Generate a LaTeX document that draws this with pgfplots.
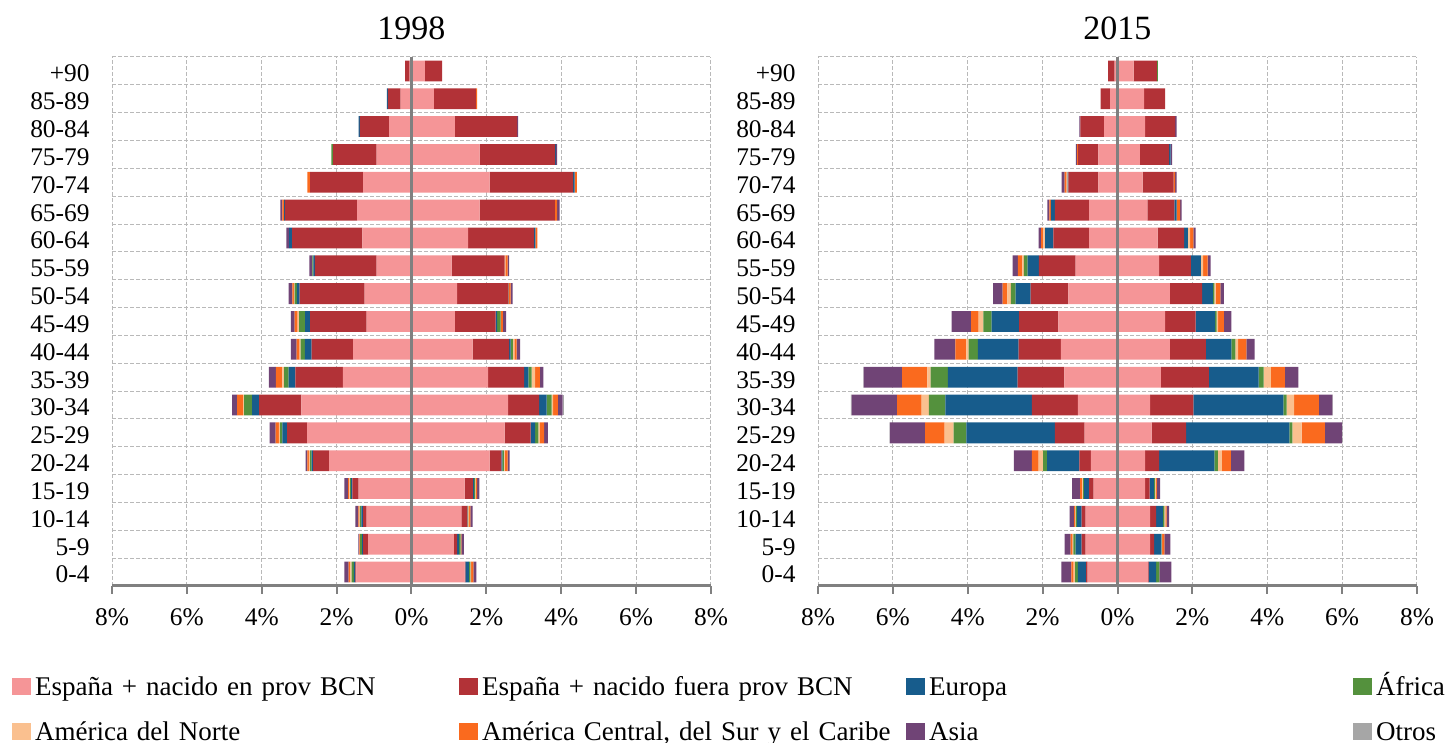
\documentclass[border=0pt]{standalone}
\usepackage{fontspec}
\setmainfont{Liberation Serif}
\usepackage{pgfplots}
\usepackage{pgfplotstable}
\pgfplotsset{compat=1.18}

\definecolor{cA}{HTML}{F59597}
\definecolor{cB}{HTML}{B23237}
\definecolor{cEU}{HTML}{175C8C}
\definecolor{cAF}{HTML}{54913D}
\definecolor{cAN}{HTML}{FAC08F}
\definecolor{cAC}{HTML}{FA6A1E}
\definecolor{cAS}{HTML}{704476}
\definecolor{cOT}{HTML}{A6A6A6}

% 1998, left side
\pgfplotstableread{
y a b eu af an ac as ot
0 -1.47 -0.03 -0.04 -0.06 -0.03 -0.05 -0.11 0
1 -1.16 -0.13 -0.03 -0.05 -0.01 -0.01 -0.03 0
2 -1.20 -0.09 -0.05 -0.04 -0.02 -0.02 -0.08 0
3 -1.41 -0.17 -0.03 -0.03 -0.02 -0.03 -0.10 0
4 -2.20 -0.43 -0.04 -0.04 -0.03 -0.04 -0.05 0
5 -2.79 -0.53 -0.13 -0.06 -0.03 -0.09 -0.16 0
6 -2.94 -1.13 -0.19 -0.21 -0.03 -0.16 -0.13 0
7 -1.83 -1.27 -0.18 -0.12 -0.05 -0.17 -0.19 0
8 -1.56 -1.11 -0.18 -0.11 -0.03 -0.08 -0.15 0
9 -1.20 -1.51 -0.13 -0.16 -0.04 -0.08 -0.10 0
10 -1.25 -1.74 -0.07 -0.06 -0.02 -0.04 -0.10 0
11 -0.93 -1.65 -0.04 -0.03 0 0 -0.08 0
12 -1.31 -1.88 -0.08 0 0 0 -0.07 0
13 -1.45 -1.93 -0.02 0 0 -0.05 -0.05 0
14 -1.29 -1.42 0 0 0 -0.07 0 0
15 -0.93 -1.16 0 -0.05 0 0 0 0
16 -0.60 -0.78 -0.03 0 0 0 0 0
17 -0.29 -0.34 -0.03 0 0 0 0 0
18 -0.05 -0.12 0 0 0 0 0 0
}\Lnn
% 1998, right side
\pgfplotstableread{
y a b eu af an ac as ot
0 1.42 0.02 0.09 0.04 0.02 0.06 0.08 0
1 1.13 0.09 0.05 0.04 0.01 0.01 0.07 0
2 1.33 0.16 0.01 0.01 0.03 0.03 0.06 0
3 1.42 0.22 0.03 0.03 0.02 0.03 0.06 0
4 2.09 0.31 0.03 0.04 0.02 0.08 0.05 0
5 2.49 0.69 0.12 0.09 0.04 0.11 0.10 0
6 2.58 0.83 0.20 0.13 0.04 0.13 0.13 0.01
7 2.05 0.96 0.11 0.09 0.09 0.13 0.09 0
8 1.63 0.98 0.04 0.06 0.04 0.06 0.09 0
9 1.16 1.09 0.04 0.09 0 0.06 0.09 0
10 1.22 1.36 0.01 0 0 0.06 0.05 0
11 1.07 1.42 0 0 0.02 0.06 0.04 0
12 1.51 1.76 0.04 0 0 0.05 0 0
13 1.82 2.01 0 0 0 0.06 0.07 0
14 2.09 2.23 0.04 0 0 0.06 0 0
15 1.82 2.02 0.02 0 0 0 0.03 0
16 1.16 1.66 0 0 0 0 0.03 0
17 0.60 1.12 0 0 0 0.03 0 0
18 0.36 0.46 0 0 0 0 0 0
}\Rnn
% 2015, left side
\pgfplotstableread{
y a b eu af an ac as ot
0 -0.80 -0.04 -0.22 -0.07 -0.04 -0.06 -0.27 0
1 -0.85 -0.11 -0.16 -0.06 -0.02 -0.05 -0.16 0
2 -0.85 -0.11 -0.12 -0.03 -0.02 -0.03 -0.12 0
3 -0.64 -0.12 -0.13 -0.03 -0.02 -0.06 -0.21 0
4 -0.71 -0.31 -0.86 -0.11 -0.12 -0.18 -0.48 0
5 -0.88 -0.79 -2.37 -0.34 -0.24 -0.52 -0.94 -0.01
6 -1.06 -1.23 -2.31 -0.44 -0.19 -0.66 -1.21 -0.02
7 -1.42 -1.25 -1.86 -0.46 -0.09 -0.67 -1.03 -0.01
8 -1.51 -1.13 -1.09 -0.25 -0.06 -0.29 -0.56 0
9 -1.58 -1.05 -0.73 -0.22 -0.13 -0.20 -0.52 0
10 -1.31 -1.01 -0.40 -0.13 -0.09 -0.13 -0.25 0
11 -1.12 -0.98 -0.30 -0.10 -0.04 -0.12 -0.14 0
12 -0.76 -0.95 -0.22 0 -0.05 -0.06 -0.07 0
13 -0.76 -0.91 -0.11 0 0 -0.04 -0.05 0
14 -0.51 -0.80 -0.02 0 -0.03 -0.05 -0.08 0
15 -0.51 -0.54 0 0 0 -0.03 -0.03 0
16 -0.36 -0.63 0 0 0 0 -0.03 0
17 -0.20 -0.25 0 0 0 0 0 0
18 -0.08 -0.17 0 0 0 0 0 0
}\Lqq
% 2015, right side
\pgfplotstableread{
y a b eu af an ac as ot
0 0.81 0.02 0.20 0.09 0 0 0.32 0
1 0.87 0.11 0.19 0.01 0.01 0.06 0.16 0
2 0.87 0.16 0.18 0.04 0.03 0.03 0.07 0
3 0.74 0.12 0.11 0.03 0.03 0.02 0.09 0
4 0.74 0.37 1.48 0.09 0.11 0.24 0.36 0
5 0.91 0.92 2.76 0.08 0.25 0.62 0.46 0.01
6 0.87 1.16 2.40 0.09 0.20 0.66 0.36 0.01
7 1.16 1.28 1.33 0.13 0.20 0.37 0.36 0
8 1.40 0.96 0.68 0.11 0.07 0.22 0.22 0
9 1.27 0.82 0.52 0.04 0.04 0.15 0.20 0
10 1.40 0.86 0.29 0.04 0.03 0.13 0.09 0
11 1.11 0.85 0.27 0 0.06 0.12 0.08 0
12 1.07 0.71 0.10 0 0.06 0.09 0.06 0
13 0.80 0.72 0.06 0 0 0.09 0.04 0
14 0.67 0.83 0 0 0 0.04 0.04 0
15 0.60 0.78 0.04 0 0 0 0.04 0
16 0.74 0.80 0 0 0 0 0.04 0
17 0.71 0.56 0 0 0 0 0 0
18 0.43 0.62 0 0.03 0 0 0 0
}\Rqq

\pgfplotsset{
  leg/.style={legend image code/.code={\fill[##1] (0pt,-3.5pt) rectangle (9.5pt,5pt);}},
  base/.style={
    scale only axis, width=299.5pt, height=264.5pt,
    xmin=-8, xmax=8, ymin=-0.5, ymax=18.5,
    xbar stacked, bar width=10.4pt,
    xtick={-8,-6,-4,-2,0,2,4,6,8},
  },
  back/.style={base,
    axis line style={draw=none},
    major tick length=0pt, minor tick length=0pt,
    xticklabels={},
    ytick={0,1,2,3,4,5,6,7,8,9,10,11,12,13,14,15,16,17,18},
    yticklabels={0-4,5-9,10-14,15-19,20-24,25-29,30-34,35-39,40-44,45-49,50-54,55-59,60-64,65-69,70-74,75-79,80-84,85-89,+90},
    minor ytick={-0.5,0.5,1.5,2.5,3.5,4.5,5.5,6.5,7.5,8.5,9.5,10.5,11.5,12.5,13.5,14.5,15.5,16.5,17.5,18.5},
    xmajorgrids=true, ymajorgrids=false, yminorgrids=true,
    grid style={gray!55, dash pattern=on 2pt off 1pt, line width=0.5pt},
    minor grid style={gray!55, dash pattern=on 2pt off 1pt, line width=0.5pt},
    major grid style={gray!55, dash pattern=on 2pt off 1pt, line width=0.5pt},
    yticklabel style={font=\fontsize{12.7}{14}\selectfont, xshift=-7.7pt, yshift=-1.3pt},
    every axis title/.style={at={(0.5,1)}, anchor=south, yshift=5.2pt, font=\fontsize{17}{19}\selectfont},
  },
  front/.style={base,
    axis on top,
    axis x line=bottom, axis y line=center,
    axis line style={-, draw=gray, line width=1.5pt},
    ytick=\empty,
    xticklabels={8\%,6\%,4\%,2\%,0\%,2\%,4\%,6\%,8\%},
    tick align=outside, major tick length=4pt,
    xtick style={draw=gray, line width=1pt},
    xticklabel style={font=\fontsize{12.7}{14}\selectfont, yshift=-4pt},
  },
}

\begin{document}
\begin{tikzpicture}
\useasboundingbox (0,0) rectangle (725.5pt,371.5pt);
% ---- 1998 left
\begin{axis}[back, at={(56pt,78.5pt)}, anchor=south west, title={1998},
  legend columns=4,
  legend style={at={(-0.1669,-0.1685)}, anchor=north west, draw=none, fill=none,
    inner sep=0pt, outer sep=0pt, column sep=0pt, row sep=9.5pt,
    font=\fontsize{13.5}{16}\selectfont,
    nodes={text width=210pt, align=left, inner xsep=2pt, inner ysep=0pt,
      text height=10pt, text depth=3pt, anchor=west}},
]
\addplot[fill=cA, draw=none, leg] table[x=a,y=y]{\Lnn};
\addlegendentry{\mbox{España + nacido en prov BCN}}
\addplot[fill=cB, draw=none, leg] table[x=b,y=y]{\Lnn};
\addlegendentry{\mbox{España + nacido fuera prov BCN}}
\addplot[fill=cEU, draw=none, leg] table[x=eu,y=y]{\Lnn};
\addlegendentry{Europa}
\addplot[fill=cAF, draw=none, leg] table[x=af,y=y]{\Lnn};
\addlegendentry{África}
\addplot[fill=cAN, draw=none, leg] table[x=an,y=y]{\Lnn};
\addlegendentry{América del Norte}
\addplot[fill=cAC, draw=none, leg] table[x=ac,y=y]{\Lnn};
\addlegendentry{\mbox{América Central, del Sur y el Caribe}}
\addplot[fill=cAS, draw=none, leg] table[x=as,y=y]{\Lnn};
\addlegendentry{Asia}
\addplot[fill=cOT, draw=none, leg] table[x=ot,y=y]{\Lnn};
\addlegendentry{Otros}
\end{axis}
% ---- 1998 right
\begin{axis}[front, at={(56pt,78.5pt)}, anchor=south west]
\addplot[fill=cA, draw=none] table[x=a,y=y]{\Rnn};
\addplot[fill=cB, draw=none] table[x=b,y=y]{\Rnn};
\addplot[fill=cEU, draw=none] table[x=eu,y=y]{\Rnn};
\addplot[fill=cAF, draw=none] table[x=af,y=y]{\Rnn};
\addplot[fill=cAN, draw=none] table[x=an,y=y]{\Rnn};
\addplot[fill=cAC, draw=none] table[x=ac,y=y]{\Rnn};
\addplot[fill=cAS, draw=none] table[x=as,y=y]{\Rnn};
\addplot[fill=cOT, draw=none] table[x=ot,y=y]{\Rnn};
\end{axis}
% ---- 2015 left
\begin{axis}[back, at={(409pt,78.5pt)}, anchor=south west, title={2015}]
\addplot[fill=cA, draw=none] table[x=a,y=y]{\Lqq};
\addplot[fill=cB, draw=none] table[x=b,y=y]{\Lqq};
\addplot[fill=cEU, draw=none] table[x=eu,y=y]{\Lqq};
\addplot[fill=cAF, draw=none] table[x=af,y=y]{\Lqq};
\addplot[fill=cAN, draw=none] table[x=an,y=y]{\Lqq};
\addplot[fill=cAC, draw=none] table[x=ac,y=y]{\Lqq};
\addplot[fill=cAS, draw=none] table[x=as,y=y]{\Lqq};
\addplot[fill=cOT, draw=none] table[x=ot,y=y]{\Lqq};
\end{axis}
% ---- 2015 right
\begin{axis}[front, at={(409pt,78.5pt)}, anchor=south west]
\addplot[fill=cA, draw=none] table[x=a,y=y]{\Rqq};
\addplot[fill=cB, draw=none] table[x=b,y=y]{\Rqq};
\addplot[fill=cEU, draw=none] table[x=eu,y=y]{\Rqq};
\addplot[fill=cAF, draw=none] table[x=af,y=y]{\Rqq};
\addplot[fill=cAN, draw=none] table[x=an,y=y]{\Rqq};
\addplot[fill=cAC, draw=none] table[x=ac,y=y]{\Rqq};
\addplot[fill=cAS, draw=none] table[x=as,y=y]{\Rqq};
\addplot[fill=cOT, draw=none] table[x=ot,y=y]{\Rqq};
\end{axis}
\end{tikzpicture}
\end{document}
